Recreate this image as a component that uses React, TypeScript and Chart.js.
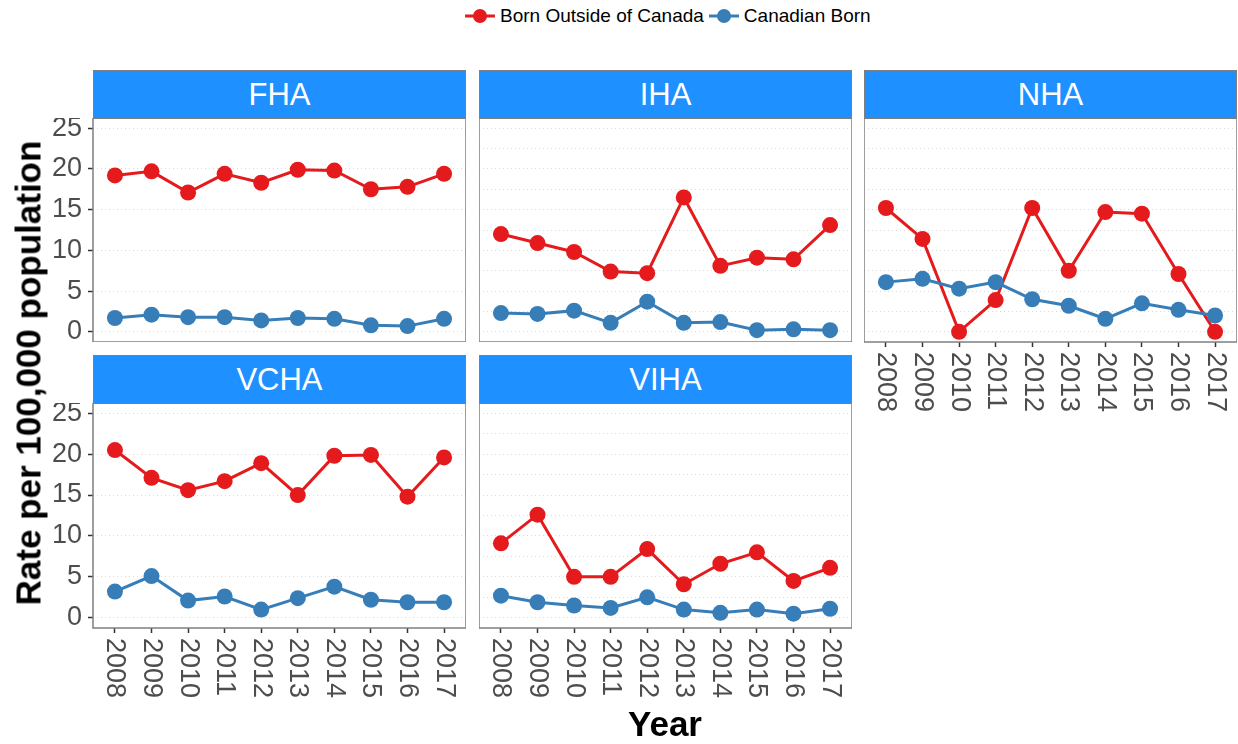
import React, { useEffect, useRef } from "react";
import { Chart, registerables } from "chart.js";

Chart.register(...registerables);

const FONT = '"Liberation Sans", Arial, sans-serif';
const RED = "#E41A1C";
const BLUE = "#377EB8";

const years = ["2008", "2009", "2010", "2011", "2012", "2013", "2014", "2015", "2016", "2017"];
const seriesNames = ["Born Outside of Canada", "Canadian Born"];
const yGridValues = [0, 2.5, 5, 7.5, 10, 12.5, 15, 17.5, 20, 22.5, 25];

const fhaOutside = [19.2, 19.7, 17.1, 19.4, 18.3, 19.9, 19.8, 17.5, 17.8, 19.4];
const fhaCanadian = [1.7, 2.1, 1.8, 1.8, 1.4, 1.7, 1.6, 0.8, 0.7, 1.6];
const ihaOutside = [12.0, 10.9, 9.8, 7.4, 7.2, 16.5, 8.1, 9.1, 8.9, 13.1];
const ihaCanadian = [2.3, 2.2, 2.6, 1.1, 3.7, 1.1, 1.2, 0.2, 0.3, 0.2];
const nhaOutside = [15.2, 11.4, 0, 3.9, 15.2, 7.5, 14.7, 14.5, 7.1, 0];
const nhaCanadian = [6.1, 6.5, 5.3, 6.1, 4.0, 3.2, 1.6, 3.5, 2.7, 2.0];
const vchaOutside = [20.5, 17.1, 15.6, 16.7, 18.9, 15.0, 19.8, 19.9, 14.8, 19.6];
const vchaCanadian = [3.2, 5.1, 2.1, 2.6, 1.0, 2.4, 3.8, 2.2, 1.9, 1.9];
const vihaOutside = [9.1, 12.6, 5.0, 5.0, 8.4, 4.1, 6.6, 8.0, 4.5, 6.1];
const vihaCanadian = [2.7, 1.9, 1.5, 1.2, 2.5, 1.0, 0.6, 1.0, 0.5, 1.1];

type PanelProps = {
  name: string;
  outside: number[];
  canadian: number[];
  left: number;
  top: number;
  width: number;
  height: number;
  showY: boolean;
  showX: boolean;
};

const STRIP_H = 48;

function Panel(p: PanelProps) {
  const ref = useRef<HTMLCanvasElement>(null);
  const YW = p.showY ? 60 : 0;
  const XH = p.showX ? 80 : 0;
  const cw = p.width + YW;
  const ch = p.height + XH;

  useEffect(() => {
    const toPts = (arr: number[]) => arr.map((v, i) => ({ x: i, y: v }));
    const decor = {
      id: "panelDecor",
      afterDraw(chart: any) {
        const { ctx, chartArea: a } = chart;
        ctx.save();
        ctx.strokeStyle = "#7F7F7F";
        ctx.lineWidth = 1.5;
        ctx.strokeRect(a.left, a.top, a.right - a.left, a.bottom - a.top);
        if (p.showX) {
          const xs = chart.scales.x;
          ctx.fillStyle = "#4D4D4D";
          ctx.font = `27px ${FONT}`;
          ctx.textAlign = "left";
          ctx.textBaseline = "middle";
          years.forEach((yr, i) => {
            const x = xs.getPixelForValue(i);
            ctx.save();
            ctx.translate(x, a.bottom + 10);
            ctx.rotate(Math.PI / 2);
            ctx.fillText(yr, 0, 0);
            ctx.restore();
          });
        }
        ctx.restore();
      },
    };
    const chart = new Chart(ref.current as HTMLCanvasElement, {
      type: "line",
      data: {
        datasets: [
          { label: seriesNames[0], data: toPts(p.outside), borderColor: RED, borderWidth: 3, pointRadius: 0, order: 4 },
          { label: seriesNames[1], data: toPts(p.canadian), borderColor: BLUE, borderWidth: 3, pointRadius: 0, order: 3 },
          { label: seriesNames[0], data: toPts(p.outside), showLine: false, pointRadius: 8, pointBackgroundColor: RED, pointBorderWidth: 0, borderColor: RED, order: 2 },
          { label: seriesNames[1], data: toPts(p.canadian), showLine: false, pointRadius: 8, pointBackgroundColor: BLUE, pointBorderWidth: 0, borderColor: BLUE, order: 1 },
        ],
      } as any,
      options: {
        responsive: false,
        animation: false,
        events: [],
        layout: { padding: 0, autoPadding: false },
        plugins: { legend: { display: false }, tooltip: { enabled: false } },
        scales: {
          x: {
            type: "linear",
            min: -0.6,
            max: 9.6,
            afterBuildTicks: (s: any) => {
              s.ticks = years.map((_, i) => ({ value: i }));
            },
            afterFit: (s: any) => {
              s.height = XH;
              s.paddingLeft = 0;
              s.paddingRight = 0;
            },
            ticks: { display: false },
            grid: { drawOnChartArea: false, drawTicks: p.showX, tickLength: 5, tickColor: "#333333", tickWidth: 1.5 },
            border: { display: false },
          },
          y: {
            type: "linear",
            min: -1.25,
            max: 26.25,
            afterBuildTicks: (s: any) => {
              s.ticks = yGridValues.map((v) => ({ value: v }));
            },
            afterFit: (s: any) => {
              s.width = YW;
              s.paddingTop = 0;
              s.paddingBottom = 0;
            },
            ticks: {
              display: p.showY,
              padding: 6,
              color: "#4D4D4D",
              font: { family: FONT, size: 27 },
              callback: (v: any) => (Number(v) % 5 === 0 ? String(v) : ""),
            },
            grid: {
              color: "#D9D9D9",
              lineWidth: 1,
              drawTicks: p.showY,
              tickLength: 5,
              tickWidth: 1.5,
              tickColor: (c: any) => (c.tick && c.tick.value % 5 === 0 ? "#333333" : "rgba(0,0,0,0)"),
            },
            border: { display: false, dash: [1, 3] },
          },
        },
      } as any,
      plugins: [decor],
    });
    return () => chart.destroy();
  }, []);

  return (
    <>
      <div
        style={{
          position: "absolute",
          left: p.left,
          top: p.top - STRIP_H,
          width: p.width,
          height: STRIP_H + 1,
          boxSizing: "border-box",
          background: "#1E90FF",
          border: "1.5px solid #7F7F7F",
          color: "#FFFFFF",
          fontFamily: FONT,
          fontSize: 31,
          display: "flex",
          alignItems: "center",
          justifyContent: "center",
        }}
      >
        {p.name}
      </div>
      <canvas
        ref={ref}
        width={cw}
        height={ch}
        style={{ position: "absolute", left: p.left - YW, top: p.top, width: cw, height: ch }}
      />
    </>
  );
}

function LegendKey({ color }: { color: string }) {
  return (
    <svg width={30} height={20} style={{ display: "block" }}>
      <line x1={0} y1={10} x2={30} y2={10} stroke={color} strokeWidth={3} />
      <circle cx={15} cy={10} r={7} fill={color} />
    </svg>
  );
}

export default function App() {
  const colLeft = [93, 479, 864];
  const W = 373;
  const row1Top = 118;
  const row2Top = 403;
  const H1 = 224;
  const H2 = 225;
  return (
    <div style={{ position: "absolute", left: 0, top: 0, width: 1238, height: 744, background: "#FFFFFF", overflow: "hidden", fontFamily: FONT }}>
      <div style={{ position: "absolute", left: 465, top: 6, height: 20, display: "flex", alignItems: "center", fontSize: 19, color: "#000" }}>
        <LegendKey color={RED} />
        <span style={{ marginLeft: 5, marginRight: 5, whiteSpace: "nowrap" }}>{seriesNames[0]}</span>
        <LegendKey color={BLUE} />
        <span style={{ marginLeft: 5, whiteSpace: "nowrap" }}>{seriesNames[1]}</span>
      </div>

      <Panel name="FHA" outside={fhaOutside} canadian={fhaCanadian} left={colLeft[0]} top={row1Top} width={W} height={H1} showY={true} showX={false} />
      <Panel name="IHA" outside={ihaOutside} canadian={ihaCanadian} left={colLeft[1]} top={row1Top} width={W} height={H1} showY={false} showX={false} />
      <Panel name="NHA" outside={nhaOutside} canadian={nhaCanadian} left={colLeft[2]} top={row1Top} width={W} height={H1} showY={false} showX={true} />
      <Panel name="VCHA" outside={vchaOutside} canadian={vchaCanadian} left={colLeft[0]} top={row2Top} width={W} height={H2} showY={true} showX={true} />
      <Panel name="VIHA" outside={vihaOutside} canadian={vihaCanadian} left={colLeft[1]} top={row2Top} width={W} height={H2} showY={false} showX={true} />

      <div
        style={{
          position: "absolute",
          left: 28,
          top: 373,
          transform: "translate(-50%, -50%) rotate(-90deg)",
          whiteSpace: "nowrap",
          fontWeight: "bold",
          fontSize: 35,
          lineHeight: 1,
          color: "#000",
        }}
      >
        Rate per 100,000 population
      </div>
      <div
        style={{
          position: "absolute",
          left: 665,
          top: 723,
          transform: "translate(-50%, -50%)",
          whiteSpace: "nowrap",
          fontWeight: "bold",
          fontSize: 35,
          lineHeight: 1,
          color: "#000",
        }}
      >
        Year
      </div>
    </div>
  );
}
